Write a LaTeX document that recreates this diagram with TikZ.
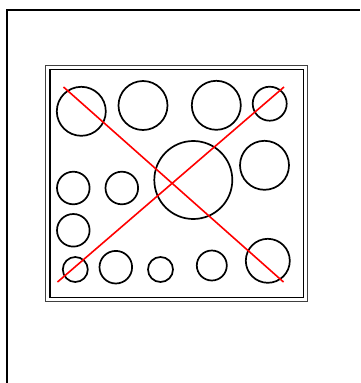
\documentclass[tikz,border=0pt]{standalone}
\begin{document}
\begin{tikzpicture}[x=1pt,y=-1pt,
  hole/.style={draw=black,line width=1.7pt},
  cross/.style={draw=red,line width=1.6pt},
  frame/.style={draw=black,line width=2pt}]
\useasboundingbox (0,0) rectangle (360,383);
% outer frame (open to right and bottom)
\draw[frame] (6.5,383) -- (6.5,9.5) -- (360,9.5);
% double border
\draw[draw=black!75,line width=1.3pt] (45.5,65.5) rectangle (307.5,301.5);
\draw[draw=black,line width=1.1pt] (50,69.5) rectangle (303.5,297.5);
% circles
\draw[hole] (81.3,111.3) circle (24.5);
\draw[hole] (143,105.5) circle (24.5);
\draw[hole] (216.3,105.3) circle (24.5);
\draw[hole] (269.7,103.7) circle (17);
\draw[hole] (193.3,180) circle (39);
\draw[hole] (264.5,165.3) circle (24.5);
\draw[hole] (73.3,188) circle (16.3);
\draw[hole] (121.8,188) circle (16.3);
\draw[hole] (73.3,230.3) circle (16.3);
\draw[hole] (75.3,269.5) circle (12.5);
\draw[hole] (115.8,267.2) circle (16.3);
\draw[hole] (160.5,269.5) circle (12.5);
\draw[hole] (211.8,265.5) circle (15);
\draw[hole] (267.8,260.8) circle (22);
% red cross
\coordinate (tl) at (63.5,87);
\coordinate (br) at (283.5,282);
\coordinate (bl) at (57.5,282);
\coordinate (tr) at (284,87);
\draw[cross] (tl) -- (br);
\draw[cross] (bl) -- (tr);
\end{tikzpicture}
\end{document}
